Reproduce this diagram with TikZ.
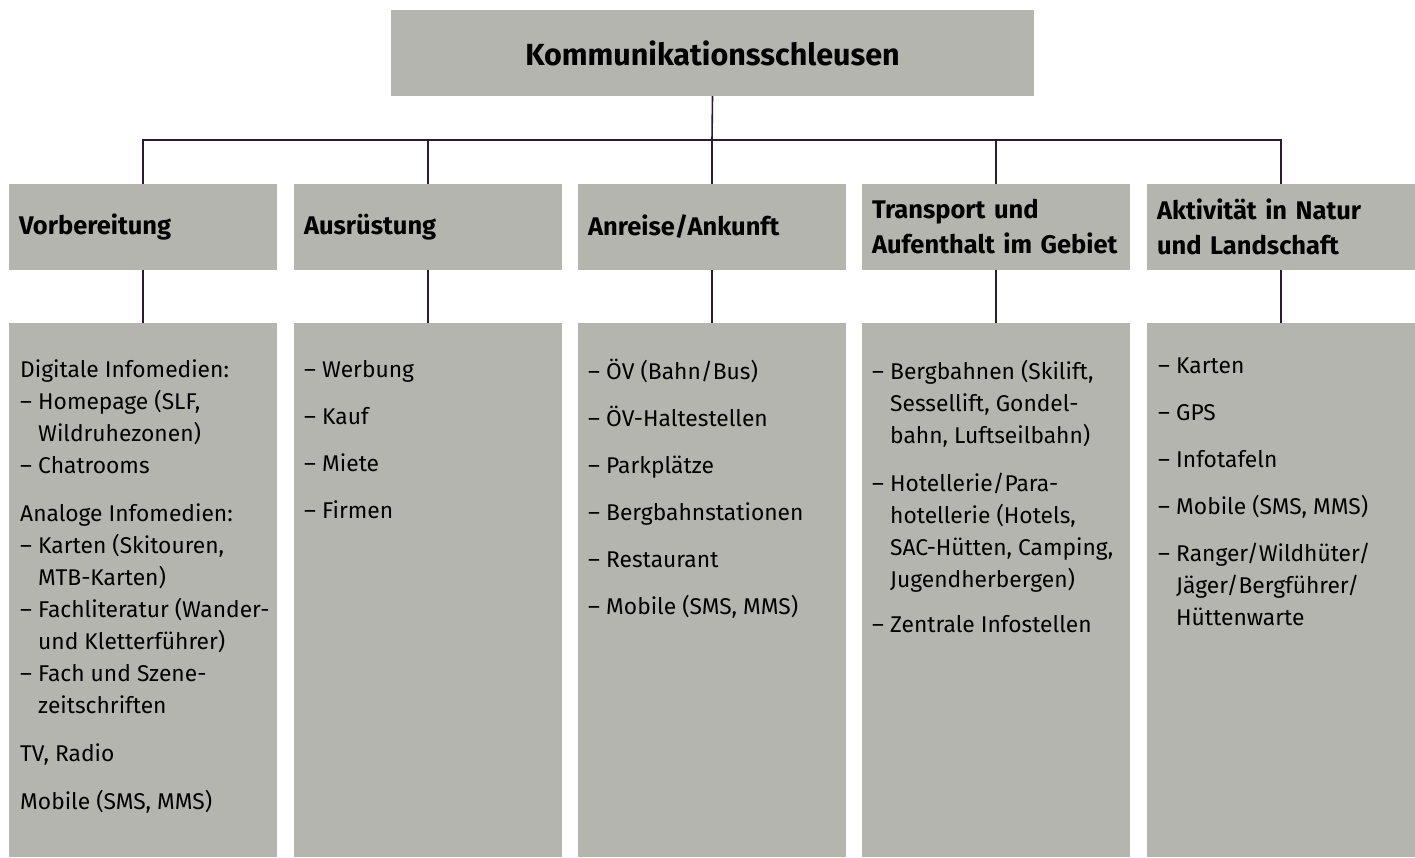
\documentclass[tikz,border=0pt]{standalone}
\usepackage{fontspec}
\setmainfont{Fira Sans}
\usetikzlibrary{positioning}
\definecolor{boxgray}{RGB}{181,181,175}
\definecolor{linecol}{RGB}{45,25,50}
\newcommand{\dsh}{\makebox[18pt][l]{–}}
\newcommand{\ind}{\hspace*{18pt}}

\begin{document}
\begin{tikzpicture}
  [x=1pt,y=-1pt,
  box/.style={fill=boxgray,anchor=north west,inner sep=0pt,outer sep=0pt},
  head/.style={box,minimum height=86pt,text width=248pt,inner xsep=10pt,%
    align=left,font=\bfseries\fontsize{25.5}{35}\selectfont},
  body/.style={box,minimum width=268pt,minimum height=534pt},
  liste/.style={anchor=north west,inner sep=0pt,align=left,%
    font=\fontsize{22.8}{32}\selectfont,execute at begin node=\strut},
  conn/.style={draw=linecol,line width=1.6pt}]
  \useasboundingbox (0,0) rectangle (1415,857);

  \node[box,minimum width=643pt,minimum height=86pt,%
    font=\bfseries\fontsize{30.5}{34}\selectfont] (K) at (391,10)
  {Kommunikationsschleusen};

  \node[head] (V) at (9,184) {Vorbereitung};
  \node[head] (A) at (294,184) {Ausrüstung};
  \node[head] (An) at (578,184) {Anreise/Ankunft};
  \node[head] (T) at (862,184) {Transport und\\Aufenthalt im Gebiet};
  \node[head] (Ak) at (1147,184) {Aktivität in Natur\\und Landschaft};

  \node[body] (Vb) at (9,323) {};
  \node[body] (Ab) at (294,323) {};
  \node[body] (Anb) at (578,323) {};
  \node[body] (Tb) at (862,323) {};
  \node[body] (Akb) at (1147,323) {};

  \node[liste] (Vt) at ([shift={(11,37)}]Vb.north west) {Digitale Infomedien:\\
    \dsh Homepage (SLF,\\ \ind Wildruhezonen)\\ \dsh Chatrooms\\[16pt]
    Analoge Infomedien:\\ \dsh Karten (Skitouren,\\ \ind MTB-Karten)\\
    \dsh Fachliteratur (Wander-\\ \ind und Kletterführer)\\
    \dsh Fach und Szene-\\ \ind zeitschriften\\[16pt]
    TV, Radio\\[16pt] Mobile (SMS, MMS)};
  \node[liste] (At) at ([shift={(10,37)}]Ab.north west) {\dsh Werbung\\[15pt]
    \dsh Kauf\\[15pt] \dsh Miete\\[15pt] \dsh Firmen};
  \node[liste] (Ant) at ([shift={(10,36)}]Anb.north west) {\dsh ÖV (Bahn/Bus)\\[15pt]
    \dsh ÖV-Haltestellen\\[15pt] \dsh Parkplätze\\[15pt]
    \dsh Bergbahnstationen\\[15pt] \dsh Restaurant\\[15pt]
    \dsh Mobile (SMS, MMS)};
  \node[liste] (Tt) at ([shift={(10,37)}]Tb.north west) {\dsh Bergbahnen (Skilift,\\
    \ind Sessellift, Gondel-\\ \ind bahn, Luftseilbahn)\\[16pt]
    \dsh Hotellerie/Para-\\ \ind hotellerie (Hotels,\\
    \ind SAC-Hütten, Camping,\\ \ind Jugendherbergen)\\[13pt]
    \dsh Zentrale Infostellen};
  \node[liste] (Akt) at ([shift={(11,35)}]Akb.north west) {\dsh Karten\\[15pt]
    \dsh GPS\\[15pt] \dsh Infotafeln\\[15pt] \dsh Mobile (SMS, MMS)\\[15pt]
    \dsh Ranger/Wildhüter/\\ \ind Jäger/Bergführer/\\ \ind Hüttenwarte};

  \coordinate (bus) at (712,140);
  \draw[conn] (K.south) -- (bus);
  \draw[conn] (V.north) -- (V.north |- bus) -- (Ak.north |- bus) -- (Ak.north);
  \draw[conn] (A.north) -- (A.north |- bus);
  \draw[conn] (An.north) -- (An.north |- bus);
  \draw[conn] (T.north) -- (T.north |- bus);

  \draw[conn] (V.south) -- (Vb.north);
  \draw[conn] (A.south) -- (Ab.north);
  \draw[conn] (An.south) -- (Anb.north);
  \draw[conn] (T.south) -- (Tb.north);
  \draw[conn] (Ak.south) -- (Akb.north);
\end{tikzpicture}
\end{document}
